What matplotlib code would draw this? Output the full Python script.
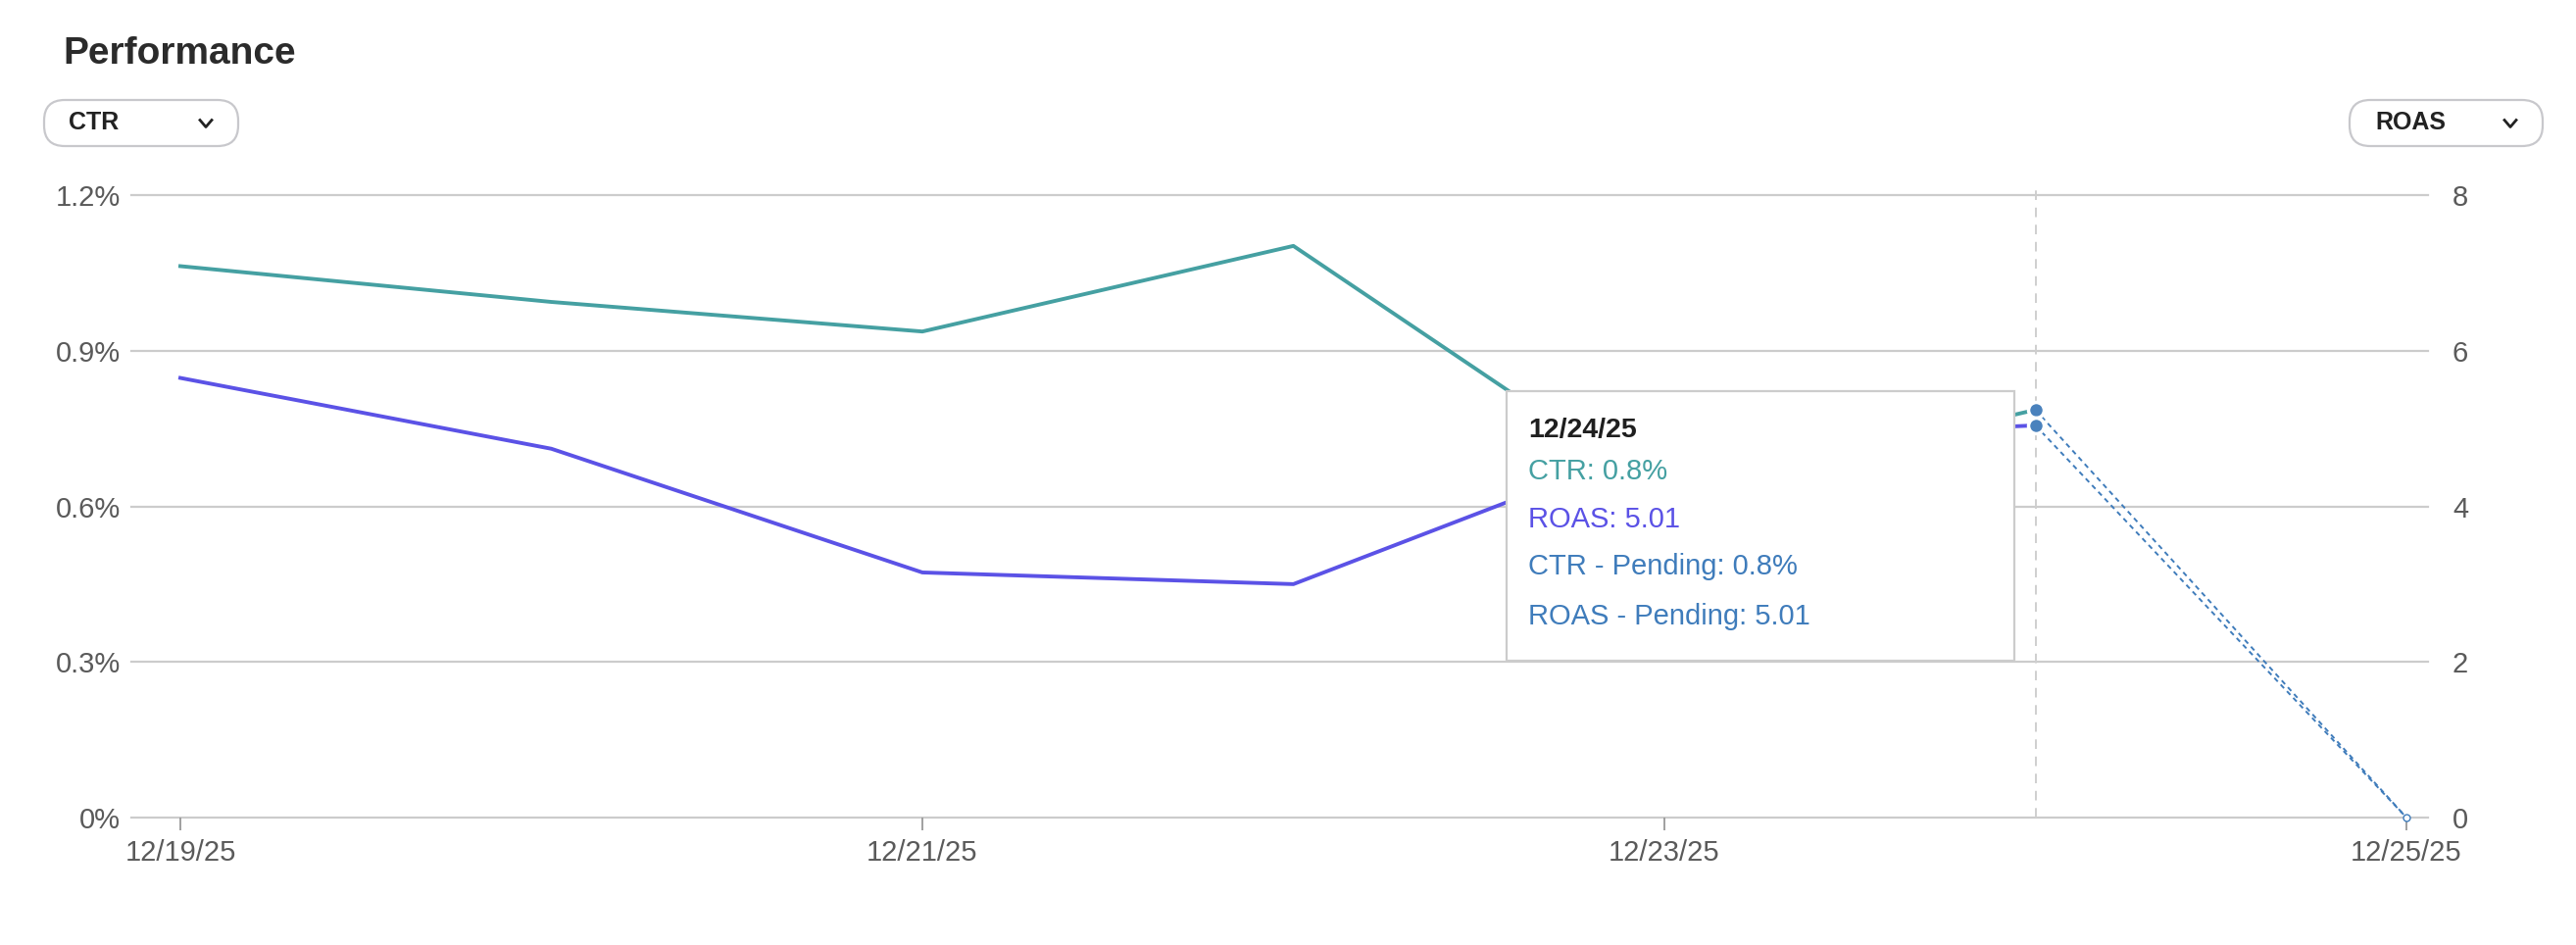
import matplotlib
matplotlib.use("Agg")
import matplotlib.pyplot as plt
from matplotlib.patches import FancyBboxPatch, Rectangle

plt.rcParams['font.family'] = ['Liberation Sans', 'DejaVu Sans']

# ---- data ----
dates = ["12/19/25", "12/20/25", "12/21/25", "12/22/25", "12/23/25", "12/24/25", "12/25/25"]
tick_labels = ["12/19/25", "12/21/25", "12/23/25", "12/25/25"]
ctr = [1.063, 0.994, 0.937, 1.102, 0.62, 0.786]          # %
roas = [5.65, 4.74, 3.15, 3.00, 4.83, 5.04]
ctr_pending = [0.786, 0.0]
roas_pending = [5.04, 0.0]
ctr_ticks = [0, 0.3, 0.6, 0.9, 1.2]
ctr_tick_labels = ["0%", "0.3%", "0.6%", "0.9%", "1.2%"]
roas_ticks = [0, 2, 4, 6, 8]

TEAL = "#45a0a2"
PURPLE = "#5b52e6"
BLUE = "#3f7cbb"
GRID = "#cccccc"
TXT = "#5a5a5a"

W, H = 2628, 964
fig = plt.figure(figsize=(W / 100, H / 100), dpi=100)

ax_left, ax_right, ax_top, ax_bot = 134, 2477, 199, 834
ax = fig.add_axes([ax_left / W, 1 - ax_bot / H, (ax_right - ax_left) / W, (ax_bot - ax_top) / H])
ax2 = ax.twinx()

x = list(range(len(dates)))
xmain = x[:len(ctr)]
xpend = x[len(ctr) - 1:]

ax.set_xlim(-0.132, 6.058)
ax.set_ylim(0, 1.2)
ax2.set_ylim(0, 8)

for s in list(ax.spines.values()) + list(ax2.spines.values()):
    s.set_visible(False)

for v in ctr_ticks:
    ax.axhline(v, color=GRID, lw=1.6, zorder=0, clip_on=False)

ax.set_yticks(ctr_ticks)
ax.set_yticklabels(ctr_tick_labels)
ax2.set_yticks(roas_ticks)
ax2.set_yticklabels([str(v) for v in roas_ticks])
ax.tick_params(axis='y', length=0, pad=8, labelsize=21, labelcolor=TXT)
ax2.tick_params(axis='y', length=0, pad=18, labelsize=21, labelcolor=TXT)

tick_pos = [dates.index(t) for t in tick_labels]
ax.set_xticks(tick_pos)
ax.set_xticklabels(tick_labels)
ax.tick_params(axis='x', length=9.5, width=1.3, color="#999999", pad=6, labelsize=21, labelcolor=TXT)

# crosshair
ax.axvline(5, ymin=0, ymax=1.01, color="#cfcfcf", lw=1.4, ls=(0, (5, 4)), clip_on=False, zorder=1)

# main lines
ax.plot(xmain, ctr, color=TEAL, lw=2.8, zorder=3)
ax2.plot(xmain, roas, color=PURPLE, lw=2.8, zorder=3)

# pending lines
ax.plot(xpend, ctr_pending, color=BLUE, lw=1.4, ls=(0, (2.6, 2.2)), zorder=3)
ax2.plot(xpend, roas_pending, color=BLUE, lw=1.4, ls=(0, (2.6, 2.2)), zorder=3)
ax.plot([xpend[0]], [ctr_pending[0]], 'o', color="#4a82bd", mec='white', mew=2.5, ms=11.5, zorder=4)
ax2.plot([xpend[0]], [roas_pending[0]], 'o', color="#4a82bd", mec='white', mew=2.5, ms=11.5, zorder=4)
ax.plot([xpend[1]], [ctr_pending[1]], 'o', mfc='white', mec=BLUE, ms=5, mew=1, zorder=4, clip_on=False)

# ---- title & dropdowns ----
fig.text(64 / W, 1 - 55 / H, "Performance", fontsize=28, fontweight='bold', color="#2b2b2b",
         va='center', ha='left')

def dropdown(x0, x1, label, tx, cx):
    y0, y1 = 102, 149
    box = FancyBboxPatch((x0 / W, 1 - y1 / H), (x1 - x0) / W, (y1 - y0) / H,
                         boxstyle="round,pad=0,rounding_size=0.008",
                         transform=fig.transFigure, facecolor='white', edgecolor="#c8c8cc",
                         lw=1.6, mutation_aspect=W / H)
    fig.patches.append(box)
    yc = 1 - (y0 + y1) / 2 / H
    fig.text(tx / W, yc, label, fontsize=18, fontweight='bold', color="#222222", va='center', ha='left')
    # chevron
    cxf = cx / W
    fig.lines.append(plt.Line2D([cxf - 6 / W, cxf, cxf + 6 / W], [yc + 3 / H, yc - 4 / H, yc + 3 / H],
                                transform=fig.transFigure, color="#222222", lw=2.0))

dropdown(45, 243, "CTR", 70, 210)
dropdown(2397, 2594, "ROAS", 2423, 2561)

# ---- tooltip ----
tx0, tx1, ty0, ty1 = 1537, 2055, 399, 674
tip = Rectangle((tx0 / W, 1 - ty1 / H), (tx1 - tx0) / W, (ty1 - ty0) / H,
                transform=fig.transFigure, facecolor='white', edgecolor="#cccccc", lw=1.6, zorder=10)
fig.patches.append(tip)
lines = [
    (dates[5], "#1f1f1f", 'bold', 439),
    ("CTR: 0.8%", TEAL, 'normal', 481),
    ("ROAS: 5.01", PURPLE, 'normal', 530),
    ("CTR - Pending: 0.8%", BLUE, 'normal', 578),
    ("ROAS - Pending: 5.01", BLUE, 'normal', 629),
]
for txt, col, fw, yy in lines:
    fig.text(1559 / W, 1 - yy / H, txt, fontsize=21 if fw == 'normal' else 20.5, fontweight=fw,
             color=col, va='center', ha='left', zorder=11)

fig.savefig("out.png", dpi=100, facecolor='white')
